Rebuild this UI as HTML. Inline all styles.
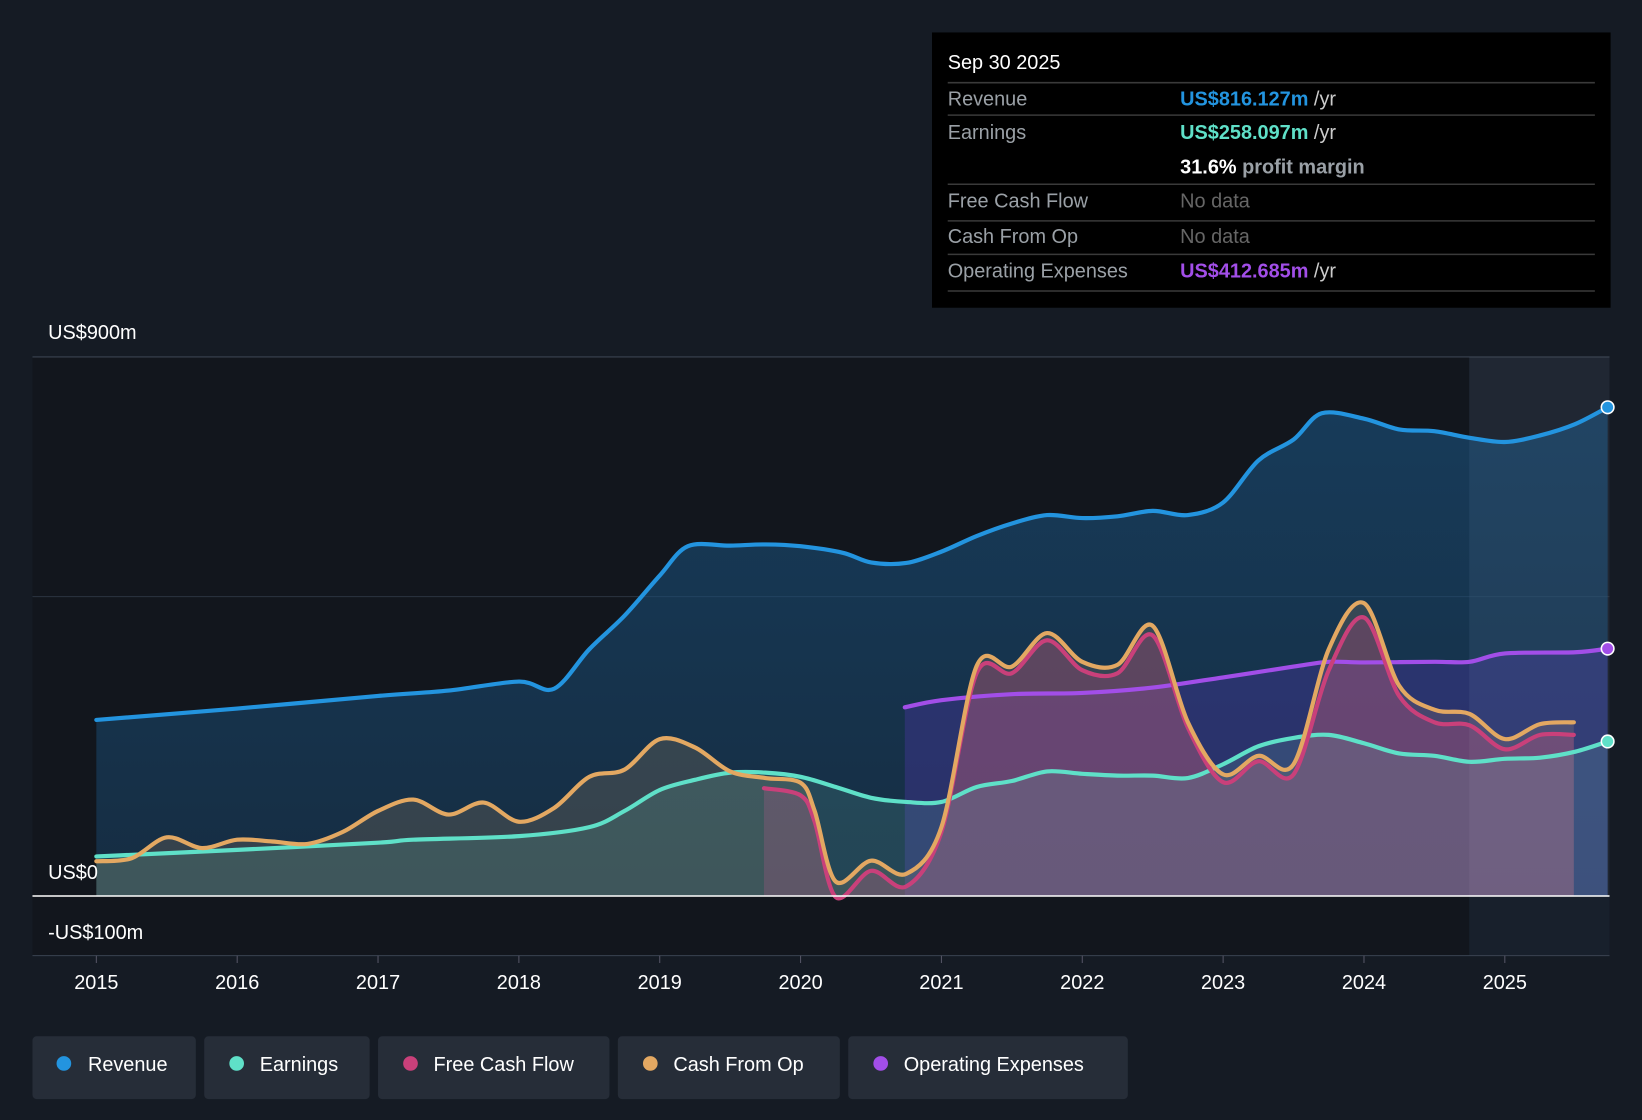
<!DOCTYPE html>
<html><head><meta charset="utf-8">
<style>
html,body{margin:0;padding:0;background:#151b24;}
svg{display:block;font-family:"Liberation Sans",sans-serif;}
</style></head>
<body>
<svg id="chart" width="1642" height="1120" viewBox="0 0 1568 1070" preserveAspectRatio="none" xmlns="http://www.w3.org/2000/svg">
<defs>
<linearGradient id="revGrad" x1="0" y1="0" x2="0" y2="1"><stop offset="0" stop-color="#1a4f7a" stop-opacity="0.65"/><stop offset="1" stop-color="#1a4f7a" stop-opacity="0.4"/></linearGradient>
</defs>
<rect x="0" y="0" width="1568" height="1070" fill="#151b24"/>
<rect x="31" y="341" width="1506" height="572" fill="#12161d"/>
<rect x="1403" y="341" width="134" height="572" fill="#18202c"/>
<line x1="31" y1="341" x2="1537" y2="341" stroke="#3a4350"/>
<line x1="31" y1="570" x2="1537" y2="570" stroke="#2c3440"/>
<line x1="31" y1="913" x2="1537" y2="913" stroke="#3a4350"/>
<g id="areas"></g>
<rect x="1403" y="341" width="134" height="515" fill="rgba(255,255,255,0.035)"/>
<g id="lines"></g>
<line x1="31" y1="856" x2="1537" y2="856" stroke="#ffffff" stroke-width="1.5"/>
<text x="46" y="324" fill="#fff" font-size="19">US$900m</text>
<text x="46" y="840" fill="#fff" font-size="19">US$0</text>
<text x="46" y="897" fill="#fff" font-size="19">-US$100m</text>
<g id="xticks"></g>

<g>
<rect x="890" y="31" width="648" height="263" fill="#000"/>
<text x="905" y="66" fill="#fff" font-size="19">Sep 30 2025</text>
<g stroke="#3a3a3a" stroke-width="1.5">
<line x1="905" y1="79" x2="1523" y2="79"/><line x1="905" y1="110" x2="1523" y2="110"/><line x1="905" y1="176" x2="1523" y2="176"/><line x1="905" y1="211" x2="1523" y2="211"/><line x1="905" y1="243" x2="1523" y2="243"/><line x1="905" y1="278" x2="1523" y2="278"/>
</g>
<g font-size="19" fill="#9aa0a6">
<text x="905" y="101">Revenue</text><text x="905" y="133">Earnings</text><text x="905" y="198">Free Cash Flow</text><text x="905" y="232">Cash From Op</text><text x="905" y="265">Operating Expenses</text>
</g>
<text x="1127" y="101" font-size="19" font-weight="bold" fill="#2394df">US$816.127m <tspan fill="#ccc" font-weight="normal">/yr</tspan></text>
<text x="1127" y="133" font-size="19" font-weight="bold" fill="#5fe0c8">US$258.097m <tspan fill="#ccc" font-weight="normal">/yr</tspan></text>
<text x="1127" y="166" font-size="19" font-weight="bold" fill="#fff">31.6% <tspan fill="#9aa0a6">profit margin</tspan></text>
<text x="1127" y="198" font-size="19" fill="#666">No data</text>
<text x="1127" y="232" font-size="19" fill="#666">No data</text>
<text x="1127" y="265" font-size="19" font-weight="bold" fill="#a24ee8">US$412.685m <tspan fill="#ccc" font-weight="normal">/yr</tspan></text>
</g>

<g font-size="19" fill="#fff">
<g><rect x="31" y="990" width="156" height="60" rx="4" fill="#262d38"/><circle cx="61" cy="1016" r="7" fill="#2394df"/><text x="84" y="1023" fill="#fff">Revenue</text></g>
<g><rect x="195" y="990" width="158" height="60" rx="4" fill="#262d38"/><circle cx="226" cy="1016" r="7" fill="#5fe0c8"/><text x="248" y="1023" fill="#fff">Earnings</text></g>
<g><rect x="361" y="990" width="221" height="60" rx="4" fill="#262d38"/><circle cx="392" cy="1016" r="7" fill="#c9407a"/><text x="414" y="1023" fill="#fff">Free Cash Flow</text></g>
<g><rect x="590" y="990" width="212" height="60" rx="4" fill="#262d38"/><circle cx="621" cy="1016" r="7" fill="#e3a862"/><text x="643" y="1023" fill="#fff">Cash From Op</text></g>
<g><rect x="810" y="990" width="267" height="60" rx="4" fill="#262d38"/><circle cx="841" cy="1016" r="7" fill="#a24ee8"/><text x="863" y="1023" fill="#fff">Operating Expenses</text></g>
</g>
</svg>
<script>
const years=[2015,2016,2017,2018,2019,2020,2021,2022,2023,2024,2025];
const revX=[2015,2016,2017,2017.5,2018,2018.25,2018.5,2018.75,2019,2019.2,2019.5,2019.75,2020,2020.3,2020.5,2020.75,2021,2021.25,2021.5,2021.75,2022,2022.25,2022.5,2022.75,2023,2023.25,2023.5,2023.7,2024,2024.25,2024.5,2024.75,2025,2025.25,2025.5,2025.73];
const revV=[294,313,334,343,358,346,412,468,535,584,585,587,584,573,557,556,575,601,622,636,631,634,643,636,657,727,762,806,797,779,776,765,758,769,788,816];
const earnX=[2015,2016,2017,2017.25,2018,2018.5,2018.75,2019,2019.25,2019.5,2019.75,2020,2020.25,2020.5,2020.75,2021,2021.25,2021.5,2021.75,2022,2022.25,2022.5,2022.75,2023,2023.25,2023.5,2023.75,2024,2024.25,2024.5,2024.75,2025,2025.25,2025.5,2025.73];
const earnV=[66,77,89,94,100,115,142,177,194,206,206,199,182,164,157,157,182,192,208,204,201,201,197,220,250,264,269,255,238,234,224,229,231,241,258];
const cfoX=[2015,2015.25,2015.5,2015.75,2016,2016.25,2016.5,2016.75,2017,2017.25,2017.5,2017.75,2018,2018.25,2018.5,2018.75,2019,2019.25,2019.5,2019.75,2020,2020.1,2020.25,2020.5,2020.75,2021,2021.25,2021.5,2021.75,2022,2022.25,2022.5,2022.75,2023,2023.25,2023.5,2023.75,2024,2024.25,2024.5,2024.75,2025,2025.25,2025.49];
const cfoV=[58,63,98,80,94,91,87,107,142,161,136,156,124,147,199,211,262,248,208,197,189,142,24,59,37,115,384,383,439,391,386,451,290,203,234,220,412,489,351,311,304,262,287,290];
const fcfX=[2019.74,2020,2020.1,2020.25,2020.5,2020.75,2021,2021.25,2021.5,2021.75,2022,2022.25,2022.5,2022.75,2023,2023.25,2023.5,2023.75,2024,2024.25,2024.5,2024.75,2025,2025.25,2025.49];
const fcfV=[180,168,124,-2,42,16,107,372,372,427,377,372,435,281,190,225,203,377,465,334,290,285,245,269,269];
const opexX=[2020.74,2021,2021.5,2022,2022.5,2023,2023.5,2023.75,2024,2024.5,2024.75,2025,2025.5,2025.73];
const opexV=[315,327,337,339,348,365,383,391,390,391,391,405,407,413];

const xS=y=>92+(y-2015)*134.5;
const yS=v=>856-v*0.5722;
const NS="http://www.w3.org/2000/svg";
function smooth(xs,vs){
  const p=xs.map((x,i)=>[xS(x),yS(vs[i])]);
  let d="M"+p[0][0]+","+p[0][1];
  for(let i=0;i<p.length-1;i++){
    const p0=p[Math.max(0,i-1)],p1=p[i],p2=p[i+1],p3=p[Math.min(p.length-1,i+2)];
    const t=0.16;
    d+=" C"+(p1[0]+(p2[0]-p0[0])*t)+","+(p1[1]+(p2[1]-p0[1])*t)+" "+(p2[0]-(p3[0]-p1[0])*t)+","+(p2[1]-(p3[1]-p1[1])*t)+" "+p2[0]+","+p2[1];
  }
  return d;
}
function area(xs,vs,fill,name){
  const el=document.createElementNS(NS,"path");
  el.setAttribute("d",smooth(xs,vs)+" L"+xS(xs[xs.length-1])+","+yS(0)+" L"+xS(xs[0])+","+yS(0)+"Z");
  el.setAttribute("fill",fill);
  
  
  document.getElementById("areas").appendChild(el);
}
function line(xs,vs,col,name,dot){
  const el=document.createElementNS(NS,"path");
  el.setAttribute("d",smooth(xs,vs));
  el.setAttribute("fill","none");el.setAttribute("stroke",col);el.setAttribute("stroke-width","4");
  el.setAttribute("stroke-linejoin","round");el.setAttribute("stroke-linecap","round");
  
  
  document.getElementById("lines").appendChild(el);
  if(dot){
    const c=document.createElementNS(NS,"circle");
    c.setAttribute("cx",xS(xs[xs.length-1]));c.setAttribute("cy",yS(vs[vs.length-1]));
    c.setAttribute("r","6");c.setAttribute("fill",col);c.setAttribute("stroke","#fff");c.setAttribute("stroke-width","1.5");
    
    
    document.getElementById("lines").appendChild(c);
  }
}
area(revX,revV,"url(#revGrad)","revenue-area");
area(opexX,opexV,"rgba(90,55,190,0.3)","opex-area");
area(cfoX,cfoV,"rgba(200,160,110,0.18)","cash-from-op-area");
area(fcfX,fcfV,"rgba(190,70,130,0.28)","free-cash-flow-area");
area(earnX,earnV,"rgba(110,200,180,0.16)","earnings-area");
line(revX,revV,"#2394df","revenue-line",true);
line(earnX,earnV,"#5fe0c8","earnings-line",true);
line(opexX,opexV,"#a24ee8","opex-line",true);
line(fcfX,fcfV,"#c9407a","free-cash-flow-line",false);
line(cfoX,cfoV,"#e3a862","cash-from-op-line",false);
const g=document.getElementById("xticks");
years.forEach(y=>{
  const l=document.createElementNS(NS,"line");
  l.setAttribute("x1",xS(y));l.setAttribute("x2",xS(y));l.setAttribute("y1",913);l.setAttribute("y2",920);l.setAttribute("stroke","#556");
  
  
  g.appendChild(l);
  const t=document.createElementNS(NS,"text");
  t.setAttribute("x",xS(y));t.setAttribute("y",945);t.setAttribute("fill","#fff");t.setAttribute("font-size","19");t.setAttribute("text-anchor","middle");
  t.textContent=y;
  
  
  g.appendChild(t);
});
</script>
</body></html>
